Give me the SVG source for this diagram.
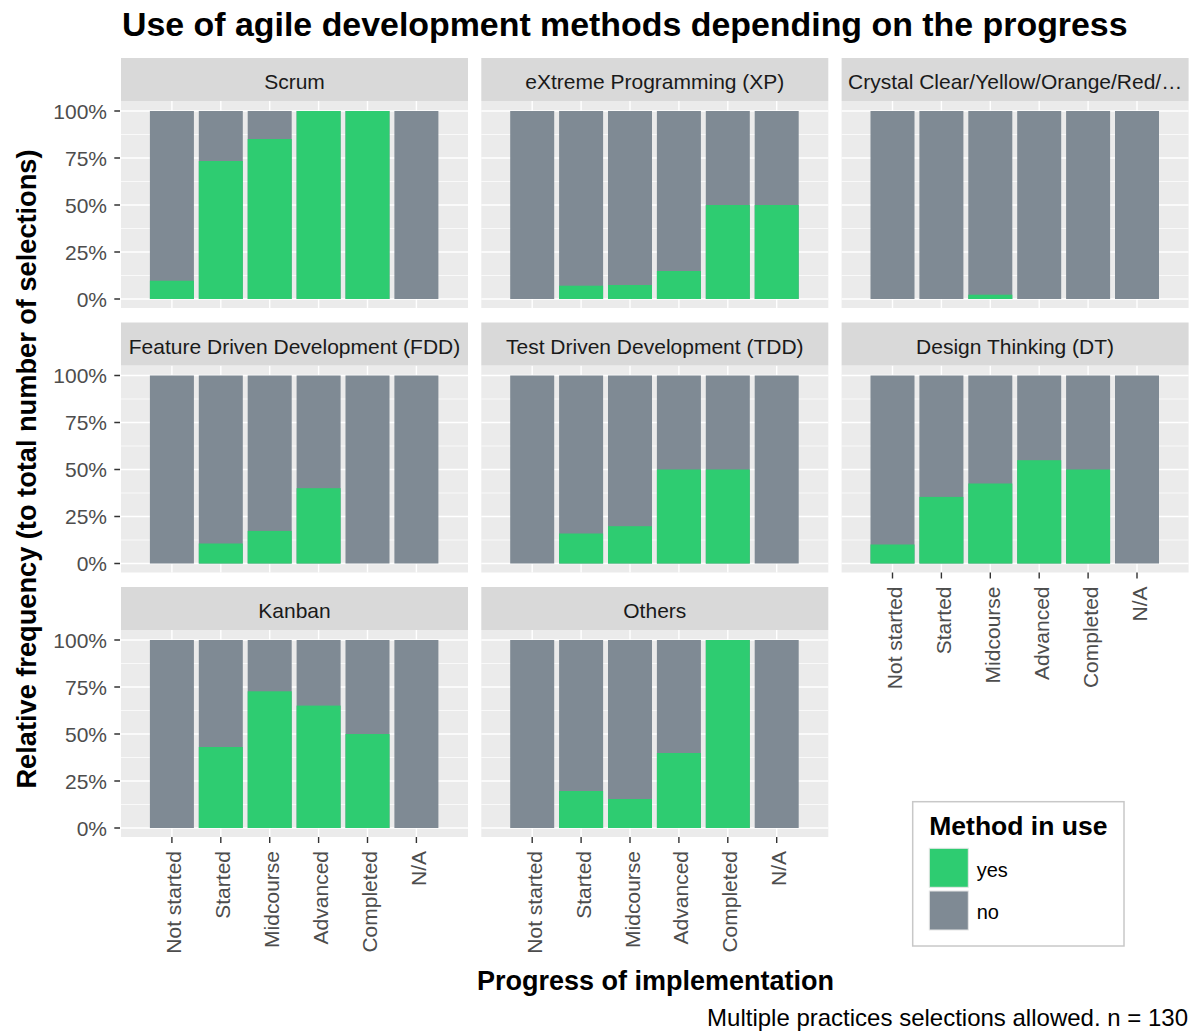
<svg xmlns="http://www.w3.org/2000/svg" width="1189" height="1032" viewBox="0 0 1189 1032">
<style>
.pbg{fill:#EBEBEB}
.strip{fill:#D9D9D9}
.gmaj{stroke:#FFFFFF;stroke-width:1.4;fill:none}
.gmin{stroke:#FFFFFF;stroke-width:0.7;fill:none}
.no{fill:#7F8A94}
.yes{fill:#2ECC71}
.tick{stroke:#333333;stroke-width:1.4}
.axt{font-family:"Liberation Sans",Arial,sans-serif;font-size:21px;fill:#4D4D4D}
.st{font-family:"Liberation Sans",Arial,sans-serif;font-size:21px;fill:#1A1A1A;text-anchor:middle}
.ttl{font-family:"Liberation Sans",Arial,sans-serif;font-weight:bold;fill:#000000}
.lt{font-family:"Liberation Sans",Arial,sans-serif;fill:#000000}
</style>
<defs>
<g id="grid">
<rect class="pbg" x="0" y="43" width="347" height="207"/>
<path class="gmin" d="M0 76.5H347M0 123.5H347M0 170.5H347M0 217.5H347"/>
<path class="gmaj" d="M0 53H347M0 100H347M0 147H347M0 194H347M0 241H347"/>
<path class="gmaj" d="M50.9 43V250M99.8 43V250M148.7 43V250M197.6 43V250M246.5 43V250M295.4 43V250"/>
<rect class="strip" x="0" y="0" width="347" height="43"/>
</g>
<g id="bars">
<rect class="no" x="28.9" y="53" width="44" height="188"/>
<rect class="no" x="77.8" y="53" width="44" height="188"/>
<rect class="no" x="126.7" y="53" width="44" height="188"/>
<rect class="no" x="175.6" y="53" width="44" height="188"/>
<rect class="no" x="224.5" y="53" width="44" height="188"/>
<rect class="no" x="273.4" y="53" width="44" height="188"/>
</g>
<g id="xlab">
<path class="tick" d="M50.9 250V256M99.8 250V256M148.7 250V256M197.6 250V256M246.5 250V256M295.4 250V256"/>
<text class="axt" text-anchor="end" transform="translate(60.4,264) rotate(-90)">Not started</text>
<text class="axt" text-anchor="end" transform="translate(109.3,264) rotate(-90)">Started</text>
<text class="axt" text-anchor="end" transform="translate(158.2,264) rotate(-90)">Midcourse</text>
<text class="axt" text-anchor="end" transform="translate(207.1,264) rotate(-90)">Advanced</text>
<text class="axt" text-anchor="end" transform="translate(256,264) rotate(-90)">Completed</text>
<text class="axt" text-anchor="end" transform="translate(304.9,264) rotate(-90)">N/A</text>
</g>
<g id="ylab">
<path class="tick" d="M114.3 53H120M114.3 100H120M114.3 147H120M114.3 194H120M114.3 241H120"/>
<text class="axt" text-anchor="end" x="107" y="60.5">100%</text>
<text class="axt" text-anchor="end" x="107" y="107.5">75%</text>
<text class="axt" text-anchor="end" x="107" y="154.5">50%</text>
<text class="axt" text-anchor="end" x="107" y="201.5">25%</text>
<text class="axt" text-anchor="end" x="107" y="248.5">0%</text>
</g>
</defs>
<rect x="0" y="0" width="1189" height="1032" fill="#FFFFFF"/>
<text class="ttl" x="122" y="35.5" style="font-size:33.9px">Use of agile development methods depending on the progress</text>

<g id="panel-scrum" transform="translate(121,58)">
<use href="#grid"/><use href="#bars"/>
<rect class="yes" x="28.9" y="222.7" width="44" height="18.3"/>
<rect class="yes" x="77.8" y="103" width="44" height="138"/>
<rect class="yes" x="126.7" y="81" width="44" height="160"/>
<rect class="yes" x="175.6" y="53" width="44" height="188"/>
<rect class="yes" x="224.5" y="53" width="44" height="188"/>
<text class="st" x="173.5" y="31">Scrum</text>
<use href="#ylab" transform="translate(-121,0)"/>
</g>

<g id="panel-xp" transform="translate(481.3,58)">
<use href="#grid"/><use href="#bars"/>
<rect class="yes" x="77.8" y="227.7" width="44" height="13.3"/>
<rect class="yes" x="126.7" y="227" width="44" height="14"/>
<rect class="yes" x="175.6" y="213" width="44" height="28"/>
<rect class="yes" x="224.5" y="147" width="44" height="94"/>
<rect class="yes" x="273.4" y="147" width="44" height="94"/>
<text class="st" x="173.5" y="31">eXtreme Programming (XP)</text>
</g>

<g id="panel-crystal" transform="translate(841.6,58)">
<use href="#grid"/><use href="#bars"/>
<rect class="yes" x="126.7" y="236.7" width="44" height="4.3"/>
<text class="st" x="173.5" y="31">Crystal Clear/Yellow/Orange/Red/…</text>
</g>

<g id="panel-fdd" transform="translate(121,322.5)">
<use href="#grid"/><use href="#bars"/>
<rect class="yes" x="77.8" y="221" width="44" height="20"/>
<rect class="yes" x="126.7" y="208.4" width="44" height="32.6"/>
<rect class="yes" x="175.6" y="165.7" width="44" height="75.3"/>
<text class="st" x="173.5" y="31">Feature Driven Development (FDD)</text>
<use href="#ylab" transform="translate(-121,0)"/>
</g>

<g id="panel-tdd" transform="translate(481.3,322.5)">
<use href="#grid"/><use href="#bars"/>
<rect class="yes" x="77.8" y="211" width="44" height="30"/>
<rect class="yes" x="126.7" y="203.7" width="44" height="37.3"/>
<rect class="yes" x="175.6" y="147" width="44" height="94"/>
<rect class="yes" x="224.5" y="147" width="44" height="94"/>
<text class="st" x="173.5" y="31">Test Driven Development (TDD)</text>
</g>

<g id="panel-dt" transform="translate(841.6,322.5)">
<use href="#grid"/><use href="#bars"/>
<rect class="yes" x="28.9" y="222" width="44" height="19"/>
<rect class="yes" x="77.8" y="174.4" width="44" height="66.6"/>
<rect class="yes" x="126.7" y="161" width="44" height="80"/>
<rect class="yes" x="175.6" y="137.7" width="44" height="103.3"/>
<rect class="yes" x="224.5" y="147" width="44" height="94"/>
<text class="st" x="173.5" y="31">Design Thinking (DT)</text>
<use href="#xlab"/>
</g>

<g id="panel-kanban" transform="translate(121,587)">
<use href="#grid"/><use href="#bars"/>
<rect class="yes" x="77.8" y="160" width="44" height="81"/>
<rect class="yes" x="126.7" y="104.3" width="44" height="136.7"/>
<rect class="yes" x="175.6" y="118.6" width="44" height="122.4"/>
<rect class="yes" x="224.5" y="147" width="44" height="94"/>
<text class="st" x="173.5" y="31">Kanban</text>
<use href="#ylab" transform="translate(-121,0)"/>
<use href="#xlab"/>
</g>

<g id="panel-others" transform="translate(481.3,587)">
<use href="#grid"/><use href="#bars"/>
<rect class="yes" x="77.8" y="204" width="44" height="37"/>
<rect class="yes" x="126.7" y="212" width="44" height="29"/>
<rect class="yes" x="175.6" y="166" width="44" height="75"/>
<rect class="yes" x="224.5" y="53" width="44" height="188"/>
<text class="st" x="173.5" y="31">Others</text>
<use href="#xlab"/>
</g>

<g id="connectors"></g>

<text class="ttl" style="font-size:27.2px" text-anchor="middle" transform="translate(36,469) rotate(-90)">Relative frequency (to total number of selections)</text>
<text class="ttl" style="font-size:27px" text-anchor="middle" x="655.5" y="990">Progress of implementation</text>
<text class="lt" style="font-size:24px" text-anchor="end" x="1188" y="1026">Multiple practices selections allowed. n = 130</text>

<g id="legend">
<rect x="912.7" y="801.7" width="211.3" height="144.3" fill="#FFFFFF" stroke="#C8C8C8" stroke-width="1.5"/>
<text class="ttl" style="font-size:26.5px" x="929.3" y="835.3">Method in use</text>
<rect class="yes" x="929.3" y="848.3" width="39" height="39" stroke="#E6E6E6" stroke-width="1"/>
<rect class="no" x="929.3" y="891" width="39" height="39" stroke="#E6E6E6" stroke-width="1"/>
<text class="lt" style="font-size:20px" x="976.7" y="877.3">yes</text>
<text class="lt" style="font-size:20px" x="976.7" y="918.5">no</text>
</g>
</svg>
